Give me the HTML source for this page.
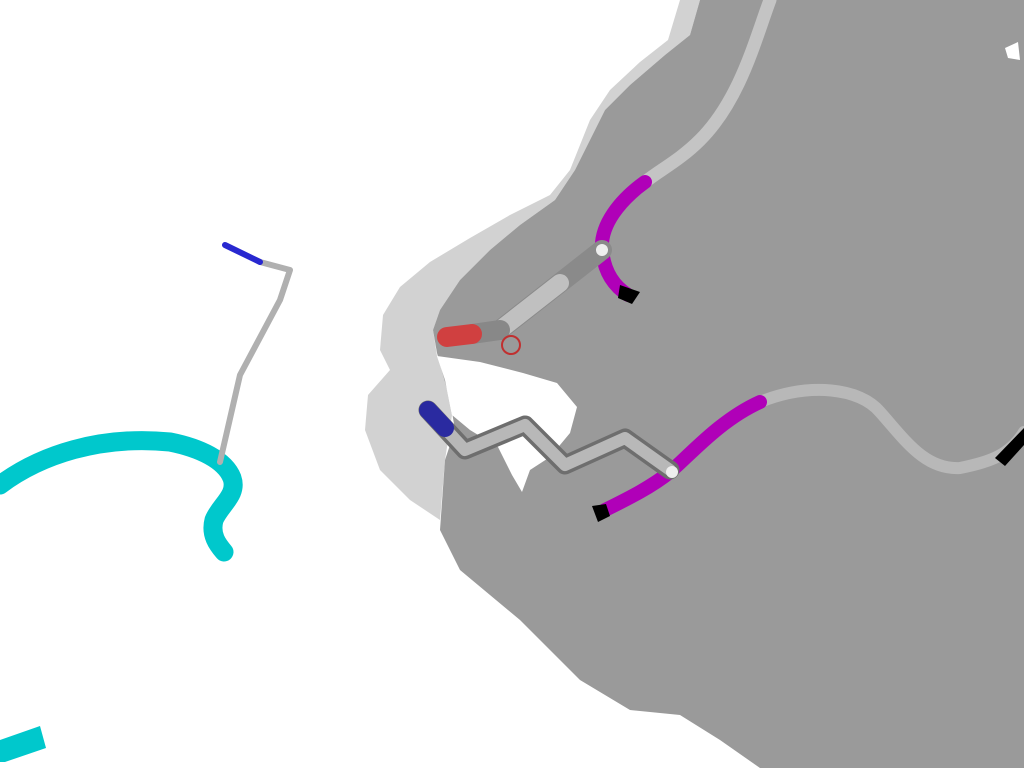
<!DOCTYPE html><html><head><style>html,body{margin:0;padding:0;background:#fff;width:1024px;height:768px;overflow:hidden}</style></head><body>
<svg width="1024" height="768" viewBox="0 0 1024 768" xmlns="http://www.w3.org/2000/svg">
<polygon fill="#d2d2d2" points="680,0 700,0 690,35 665,55 630,85 605,110 590,140 575,170 555,200 520,225 490,250 460,280 440,310 433,330 437,356 445,380 452,415 445,460 440,520 410,500 380,470 365,430 368,395 390,370 380,350 383,315 400,287 430,262 470,238 510,215 550,195 570,170 590,120 610,90 640,62 668,40"/>
<polygon fill="#9a9a9a" points="700,0 690,35 665,55 630,85 605,110 590,140 575,170 555,200 520,225 490,250 460,280 440,310 433,330 437,353 450,400 455,430 445,460 440,530 460,570 520,620 580,680 630,710 680,715 720,740 760,768 1024,768 1024,0"/>
<polygon fill="#fff" points="437,356 480,362 523,373 557,383 577,407 570,433 550,457 530,470 522,492 512,475 498,447 470,430 452,415 445,380"/>
<polygon fill="#fff" points="1005,48 1018,42 1020,60 1008,58"/>
<g fill="none" stroke-linecap="round" stroke-linejoin="round">
<path d="M770,0 C755,40 740,100 700,140 C680,160 660,170 645,182" stroke="#c4c4c4" stroke-width="13"/>
<path d="M645,182 C620,200 600,225 602,250 C604,270 612,285 628,295" stroke="#b000b8" stroke-width="14"/>
<path d="M602,250 L500,330" stroke="#8a8a8a" stroke-width="20"/>
<path d="M560,283 L500,330" stroke="#c0c0c0" stroke-width="18"/>
<path d="M500,330 L472,334" stroke="#888" stroke-width="20"/>
<path d="M472,334 L447,337" stroke="#d04040" stroke-width="20"/>
<circle cx="511" cy="345" r="9" stroke="#c03030" stroke-width="2"/>
<path d="M1024,432 C1010,455 990,462 960,468 C925,470 905,440 880,412 C860,388 810,382 760,402" stroke="#b8b8b8" stroke-width="12"/>
<path d="M760,402 C720,420 690,455 670,472 C650,488 625,500 605,510" stroke="#b000b8" stroke-width="14"/>
<path d="M428,410 L465,450 L525,425 L565,465 L625,438 L670,470" stroke="#6e6e6e" stroke-width="19"/>
<path d="M428,410 L465,450 L525,425 L565,465 L625,438 L670,470" stroke="#b8b8b8" stroke-width="12"/>
<path d="M428,410 L445,428" stroke="#2a2aa0" stroke-width="18"/>
<path d="M0,485 C40,455 100,435 170,442 C200,448 225,460 232,478 C238,495 220,505 214,520 C210,535 218,545 224,552" stroke="#00c8cc" stroke-width="19"/>
<path d="M220,462 L240,375 L280,300 L290,270 L260,262" stroke="#b0b0b0" stroke-width="6"/>
<path d="M260,262 L225,245" stroke="#2828d0" stroke-width="6"/>
</g>
<circle cx="602" cy="250" r="6" fill="#eee"/>
<circle cx="672" cy="472" r="6" fill="#eee"/>
<polygon fill="#000" points="620,285 640,292 632,304 618,298"/>
<polygon fill="#000" points="592,506 606,504 610,516 598,522"/>
<polygon fill="#000" points="995,458 1024,428 1024,445 1005,466"/>
<polygon fill="#00c8cc" points="0,740 40,726 46,748 5,762 0,762"/>
</svg>
</body></html>
